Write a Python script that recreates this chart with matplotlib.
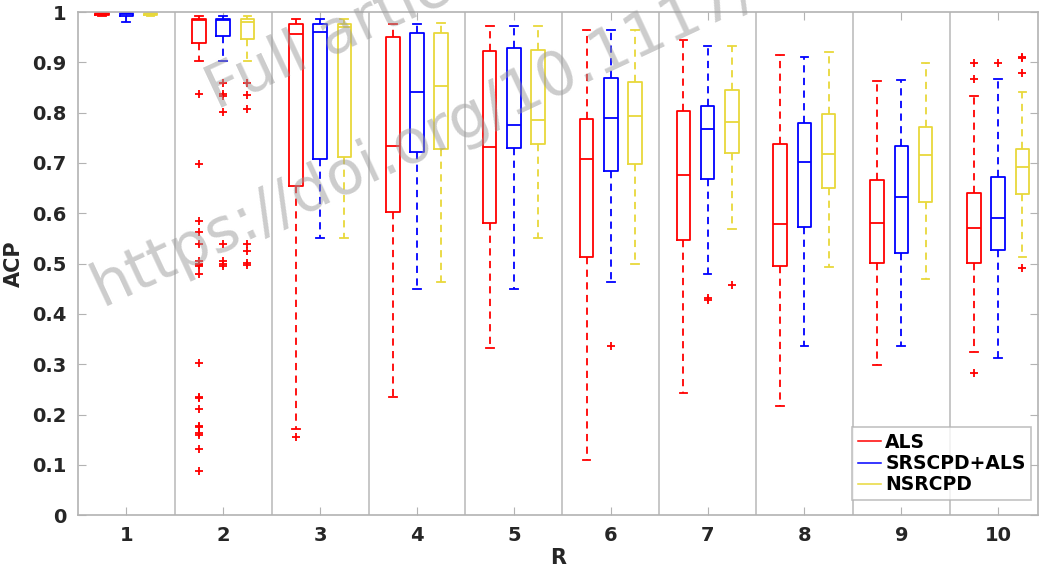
import matplotlib
matplotlib.use("Agg")
import matplotlib.pyplot as plt
from matplotlib.lines import Line2D

# R = 1..10
r_values = [1, 2, 3, 4, 5, 6, 7, 8, 9, 10]
methods = ["ALS", "SRSCPD+ALS", "NSRCPD"]
colors = ["#ff0000", "#0000ff", "#e8d83a"]

# box stats: lower whisker, q1, median, q3, upper whisker
als_lo = [0.992, 0.903, 0.171, 0.235, 0.333, 0.109, 0.242, 0.217, 0.298, 0.325]
als_q1 = [0.994, 0.939, 0.655, 0.602, 0.580, 0.513, 0.547, 0.495, 0.501, 0.502]
als_med = [0.996, 0.984, 0.957, 0.734, 0.732, 0.707, 0.676, 0.579, 0.580, 0.571]
als_q3 = [0.998, 0.986, 0.977, 0.950, 0.922, 0.787, 0.803, 0.737, 0.666, 0.640]
als_hi = [0.999, 0.992, 0.986, 0.977, 0.972, 0.964, 0.944, 0.914, 0.862, 0.834]
als_out = [[], [0.838, 0.697, 0.584, 0.562, 0.539, 0.505, 0.500, 0.498, 0.495, 0.480,
                0.303, 0.235, 0.232, 0.210, 0.178, 0.175, 0.163, 0.160, 0.131, 0.088],
           [0.156], [], [], [], [], [], [], [0.898, 0.867, 0.282]]

srs_lo = [0.980, 0.903, 0.550, 0.449, 0.449, 0.463, 0.480, 0.337, 0.337, 0.313]
srs_q1 = [0.993, 0.953, 0.708, 0.722, 0.730, 0.684, 0.669, 0.573, 0.522, 0.527]
srs_med = [0.996, 0.984, 0.961, 0.841, 0.775, 0.790, 0.767, 0.702, 0.633, 0.591]
srs_q3 = [0.998, 0.987, 0.977, 0.958, 0.928, 0.869, 0.814, 0.780, 0.734, 0.673]
srs_hi = [0.999, 0.992, 0.986, 0.977, 0.972, 0.964, 0.933, 0.911, 0.864, 0.867]
srs_out = [[], [0.858, 0.837, 0.834, 0.802, 0.539, 0.505, 0.500, 0.495],
           [], [], [], [0.337], [0.431, 0.428], [], [], [0.898]]

nsr_lo = [0.993, 0.903, 0.550, 0.463, 0.550, 0.499, 0.568, 0.494, 0.469, 0.514]
nsr_q1 = [0.994, 0.946, 0.712, 0.728, 0.738, 0.697, 0.719, 0.651, 0.623, 0.638]
nsr_med = [0.996, 0.981, 0.971, 0.852, 0.785, 0.793, 0.781, 0.718, 0.716, 0.692]
nsr_q3 = [0.998, 0.987, 0.977, 0.958, 0.924, 0.860, 0.845, 0.797, 0.771, 0.728]
nsr_hi = [0.999, 0.992, 0.986, 0.979, 0.972, 0.964, 0.933, 0.921, 0.898, 0.842]
nsr_out = [[], [0.858, 0.835, 0.808, 0.539, 0.525, 0.502, 0.498],
           [], [], [], [], [0.457], [], [], [0.911, 0.908, 0.879, 0.492]]

series = [
    (als_lo, als_q1, als_med, als_q3, als_hi, als_out),
    (srs_lo, srs_q1, srs_med, srs_q3, srs_hi, srs_out),
    (nsr_lo, nsr_q1, nsr_med, nsr_q3, nsr_hi, nsr_out),
]
offsets = [-0.25, 0.0, 0.25]

fig = plt.figure(figsize=(10.39, 5.73), dpi=100)
ax = fig.add_axes([0.075, 0.101, 0.924, 0.878])

for (lo, q1, med, q3, hi, out), col, off in zip(series, colors, offsets):
    stats = []
    for i in range(len(r_values)):
        stats.append({"whislo": lo[i], "q1": q1[i], "med": med[i], "q3": q3[i],
                      "whishi": hi[i], "fliers": out[i]})
    pos = [r + off for r in r_values]
    ax.bxp(stats, positions=pos, widths=0.14, capwidths=0.08, showfliers=True,
           manage_ticks=False,
           boxprops=dict(color=col, linewidth=1.3),
           medianprops=dict(color=col, linewidth=1.3),
           whiskerprops=dict(color=col, linewidth=1.3, linestyle=(0, (4, 3))),
           capprops=dict(color=col, linewidth=1.3),
           flierprops=dict(marker="+", markeredgecolor="#ff0000", markersize=6,
                           markeredgewidth=1.3, linestyle="none"))

for r in r_values[:-1]:
    ax.axvline(r + 0.5, color="#bdbdbd", linewidth=1.2, zorder=0)

gray = "#b3b3b3"
ax.set_xlim(0.5, 10.41)
ax.set_ylim(0, 1)
ax.set_xticks(r_values)
ax.set_xticklabels([str(r) for r in r_values])
ax.set_yticks([i / 10 for i in range(11)])
ax.set_yticklabels(["0", "0.1", "0.2", "0.3", "0.4", "0.5", "0.6", "0.7", "0.8", "0.9", "1"])
ax.tick_params(direction="in", top=True, right=True, length=6, color=gray,
               labelsize=14, labelcolor="#262626", pad=8)
for lab in ax.get_xticklabels() + ax.get_yticklabels():
    lab.set_fontweight("bold")
for s in ax.spines.values():
    s.set_color(gray)
    s.set_linewidth(1.2)

ax.set_xlabel("R", fontsize=15, fontweight="bold", color="#262626", labelpad=2)
ax.set_ylabel("ACP", fontsize=15, fontweight="bold", color="#262626", labelpad=6)

handles = [Line2D([], [], color=c, linewidth=1.1) for c in colors]
leg = ax.legend(handles, methods, loc="lower right", bbox_to_anchor=(0.993, 0.03),
                prop={"weight": "bold", "size": 13.5}, frameon=True, fancybox=False,
                handlelength=1.25, handletextpad=0.2, borderpad=0.3, labelspacing=0.12,
                borderaxespad=0)
leg.get_frame().set_edgecolor(gray)
leg.get_frame().set_linewidth(1.2)

# watermark over the plot
fig.text(0.098, 0.466, "https://doi.org/10.1117/", fontsize=44, color="#9a9a9a",
         alpha=0.5, rotation=25, rotation_mode="anchor", ha="left", va="baseline")
fig.text(0.208, 0.808, "Full article", fontsize=44, color="#9a9a9a",
         alpha=0.5, rotation=25, rotation_mode="anchor", ha="left", va="baseline")

fig.savefig("out.png", dpi=100)
